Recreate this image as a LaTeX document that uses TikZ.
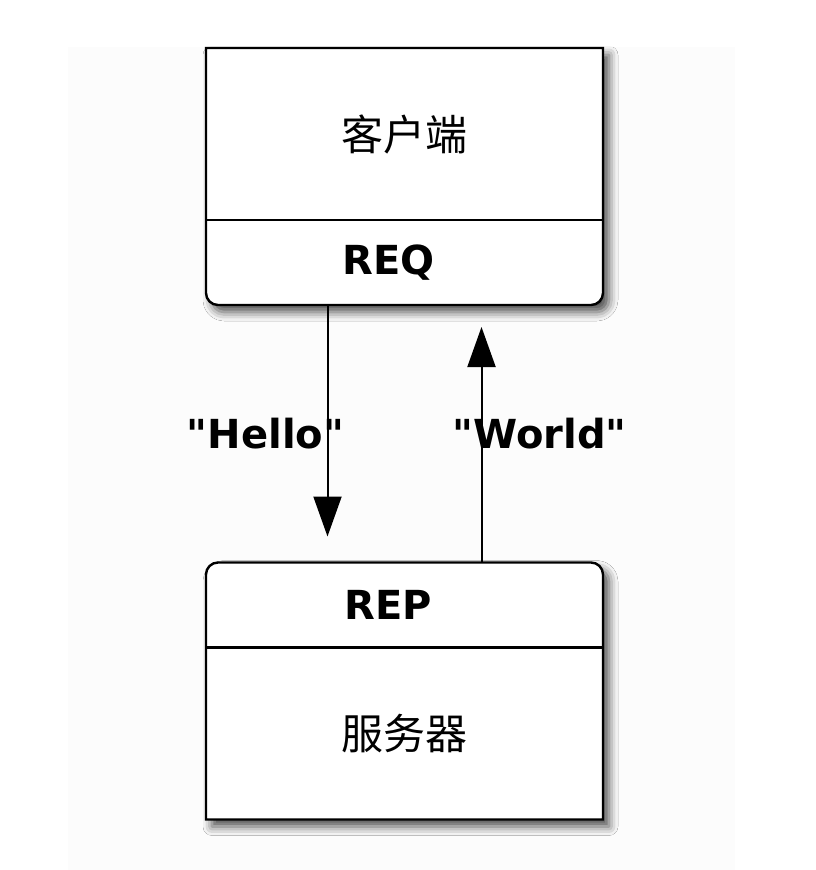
\documentclass[tikz,border=0pt]{standalone}
\usepackage{fontspec}
\setmainfont{DejaVu Sans}
\newfontfamily\cjk{Noto Sans CJK SC}
\usetikzlibrary{arrows.meta}
\usetikzlibrary{shadows}
\usetikzlibrary{shadows.blur}
\usetikzlibrary{backgrounds}
\usetikzlibrary{positioning}
\tikzset{part/.style={minimum width=397pt, inner sep=0pt, outer sep=0pt, text centered}}
\tikzset{title/.style={part, minimum height=172pt, font=\cjk\fontsize{42}{42}\selectfont}}
\tikzset{socket/.style={part, minimum height=85pt, font=\bfseries\fontsize{40}{40}\selectfont}}
\tikzset{frame/.style={draw, line width=2.4pt, fill=white, blur shadow={shadow xshift=6pt, shadow yshift=-7pt, shadow blur radius=9pt, shadow opacity=70}}}
\tikzset{divider/.style={draw, line width=2.4pt}}
\tikzset{connect/.style={draw, line width=2pt, -{Triangle[width=28pt,length=40pt]}}}
\tikzset{msg/.style={font=\bfseries\fontsize{40}{40}\selectfont}}

\begin{document}
\begin{tikzpicture}[x=1pt,y=-1pt]
\useasboundingbox (0,0) rectangle (816,870);
\node[title] (client) at (404.5,134) {客户端};
\node[socket,below=0pt of client] (req) {REQ\hspace*{32pt}};
\node[socket] (rep) at (404.5,605) {REP\hspace*{32pt}};
\node[title,below=0pt of rep] (server) {服务器};
\begin{scope}[on background layer]
\fill[black!1] (68,47) rectangle (735,870);
\path[frame] (client.north west) -- (client.north east) -- ([yshift=12pt]req.south east)
  arc[start angle=0, end angle=-90, radius=12pt] -- ([xshift=12pt]req.south west)
  arc[start angle=-90, end angle=-180, radius=12pt] -- cycle;
\path[frame] (server.south west) -- (server.south east) -- ([yshift=-12pt]rep.north east)
  arc[start angle=0, end angle=90, radius=12pt] -- ([xshift=12pt]rep.north west)
  arc[start angle=90, end angle=180, radius=12pt] -- cycle;
\end{scope}
\path[divider] (client.south west) -- (client.south east);
\path[divider] (rep.south west) -- (rep.south east);
\path[connect,shorten >=26pt] ([xshift=-77pt]req.south) -- ([xshift=-77pt]rep.north)
  node[msg,midway,xshift=-62pt] (hello) {\textquotedbl Hello\textquotedbl};
\path[connect,shorten >=22pt] ([xshift=77pt]rep.north) -- ([xshift=77pt]req.south)
  node[msg,midway,xshift=58pt] (world) {\textquotedbl World\textquotedbl};
\end{tikzpicture}
\end{document}
